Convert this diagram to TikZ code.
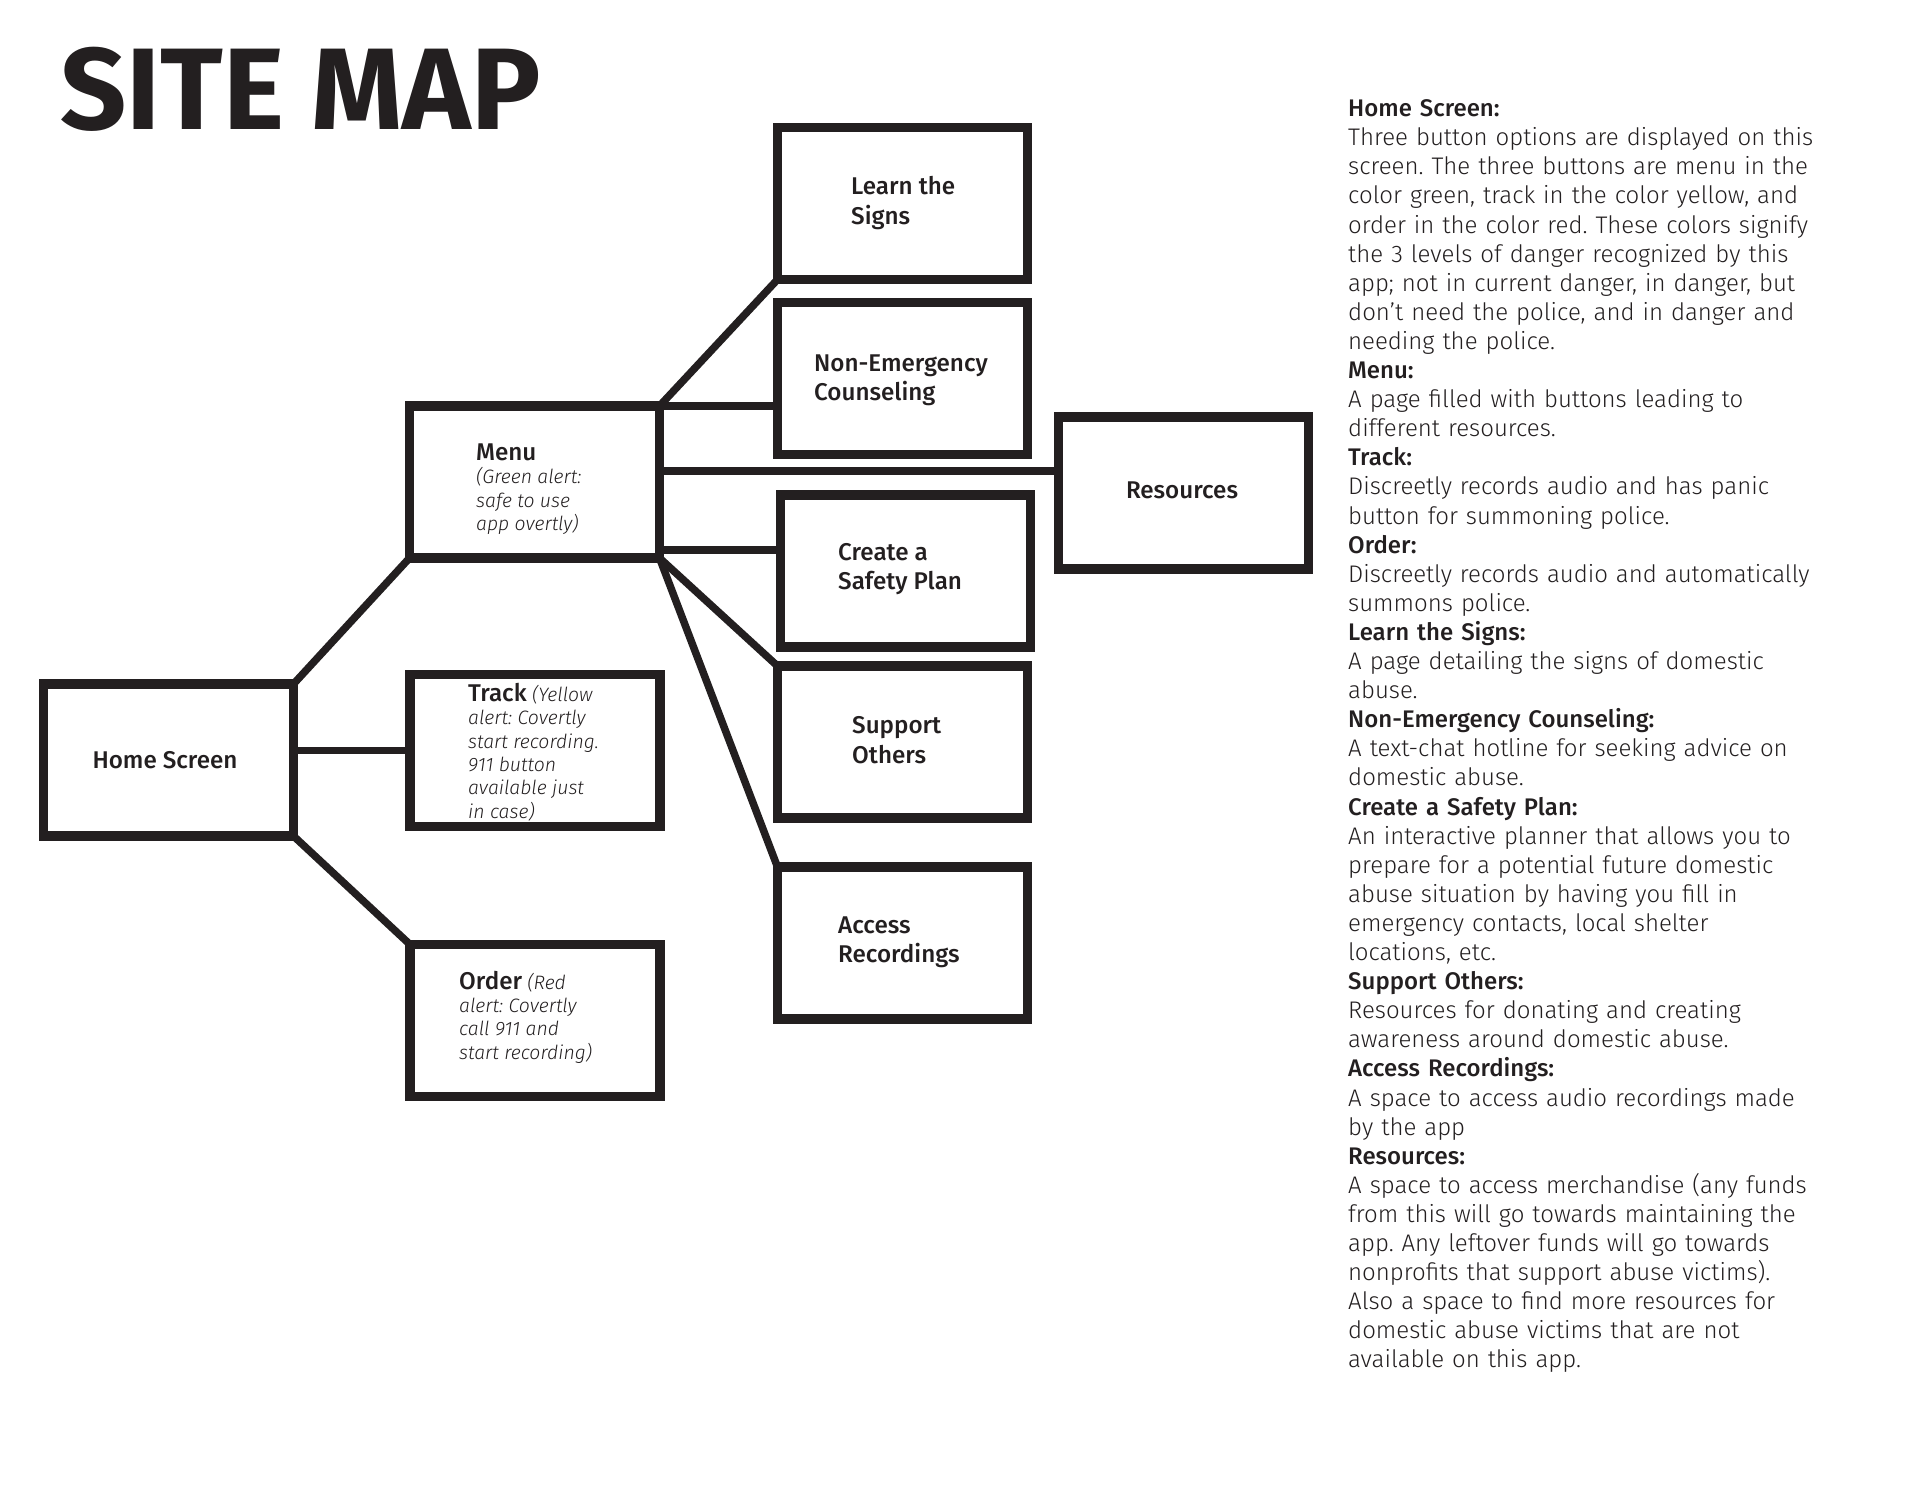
\documentclass[tikz,border=0pt]{standalone}
\usepackage{fontspec}
\setmainfont{Fira Sans Light}[BoldFont={Fira Sans Medium}, ItalicFont={Fira Sans Light Italic}, BoldItalicFont={Fira Sans Medium Italic}]
\newfontfamily\titlefont{Fira Sans Bold}
\usetikzlibrary{backgrounds}
\definecolor{ink}{HTML}{231F20}
\tikzset{
  box/.style={draw=ink, fill=white, line width=9.5pt, minimum width=250pt, minimum height=152pt, inner sep=0pt, outer sep=0pt},
  conn/.style={draw=ink, line width=7.5pt},
  lbl/.style={font=\fontsize{24.2}{29.4}\selectfont\bfseries, text=ink, inner sep=0pt, align=left, anchor=west},
  note/.style={font=\fontsize{19.4}{23.3}\selectfont\itshape, text=ink, inner sep=0pt, align=left, anchor=west},
  desc/.style={font=\fontsize{24}{29.1}\selectfont, text=ink, inner sep=0pt, align=left, text width=570pt, anchor=north west}
}
\begin{document}
\frenchspacing
\begin{tikzpicture}[x=1pt, y=-1pt]
\useasboundingbox (0,0) rectangle (1920,1484);
% title
\node[font=\fontsize{116}{116}\selectfont\titlefont, text=ink, inner sep=0pt, anchor=base west] (title) at (60,129) {SITE MAP};
% boxes
\node[box] (home) at (168.5,760) {};
\node[box] (menu) at (534.5,482) {};
\node[box] (track) at (535,750.5) {};
\node[box] (order) at (535,1020.5) {};
\node[box] (learn) at (902.5,203.5) {};
\node[box] (nonem) at (902.5,378.5) {};
\node[box] (res) at (1183.5,493) {};
\node[box] (create) at (905.5,571) {};
\node[box] (support) at (902.5,742) {};
\node[box] (access) at (902.5,943) {};
% labels
\node[lbl, anchor=center] (homet) at (165,760) {Home Screen};
\node[lbl, anchor=center] (rest) at (1182,490) {Resources};
\node[lbl] (learnt) at (851,203) {Learn the\\Signs};
\node[lbl] (nonemt) at (814,380) {Non-Emergency\\Counseling};
\node[lbl] (createt) at (838,569) {Create a\\Safety Plan};
\node[lbl] (supportt) at (852,740) {Support\\Others};
\node[lbl] (accesst) at (838,942) {Access\\Recordings};
\node[note] (menut) at (476,489) {{\fontsize{24.2}{23.3}\selectfont\bfseries\upshape Menu}\\(Green alert:\\safe to use\\app overtly)};
\node[note] (trackt) at (468,752) {{\fontsize{24.2}{23.3}\selectfont\bfseries\upshape Track} (Yellow\\alert: Covertly\\start recording.\\911 button\\available just\\in case)};
\node[note] (ordert) at (459,1017) {{\fontsize{24.2}{23.3}\selectfont\bfseries\upshape Order} (Red\\alert: Covertly\\call 911 and\\start recording)};
% description column
\node[desc] (descr) at (1348,99.5) {\textbf{Home Screen:}\\
Three button options are displayed on this\\
screen. The three buttons are menu in the\\
color green, track in the color yellow, and\\
order in the color red. These colors signify\\
the 3 levels of danger recognized by this\\
app; not in current danger, in danger, but\\
don’t need the police, and in danger and\\
needing the police.\\
\textbf{Menu:}\\
A page filled with buttons leading to\\
different resources.\\
\textbf{Track:}\\
Discreetly records audio and has panic\\
button for summoning police.\\
\textbf{Order:}\\
Discreetly records audio and automatically\\
summons police.\\
\textbf{Learn the Signs:}\\
A page detailing the signs of domestic\\
abuse.\\
\textbf{Non-Emergency Counseling:}\\
A text-chat hotline for seeking advice on\\
domestic abuse.\\
\textbf{Create a Safety Plan:}\\
An interactive planner that allows you to\\
prepare for a potential future domestic\\
abuse situation by having you fill in\\
emergency contacts, local shelter\\
locations, etc.\\
\textbf{Support Others:}\\
Resources for donating and creating\\
awareness around domestic abuse.\\
\textbf{Access Recordings:}\\
A space to access audio recordings made\\
by the app\\
\textbf{Resources:}\\
A space to access merchandise (any funds\\
from this will go towards maintaining the\\
app. Any leftover funds will go towards\\
nonprofits that support abuse victims).\\
Also a space to find more resources for\\
domestic abuse victims that are not\\
available on this app.};
% connectors
\coordinate (mc) at ([yshift=8pt]menu.south east);
\coordinate (mr) at ([yshift=22pt]menu.east |- res.west);
\begin{scope}[on background layer]
\fill[white] (0,0) rectangle (1920,1484);
\draw[conn] (home.north east) -- (menu.south west);
\draw[conn] (home.east |- track.west) -- (track.west);
\draw[conn] (home.south east) -- (order.north west);
\draw[conn] (menu.north east) -- (learn.south west);
\draw[conn] (menu.north east) -- (nonem.west |- menu.north east);
\draw[conn] (mr) -- (res.west |- mr);
\draw[conn] (mc) -- (create.west |- mc);
\draw[conn] (menu.south east) -- (support.north west);
\draw[conn] (menu.south east) -- (access.north west);
\end{scope}
\end{tikzpicture}
\end{document}
